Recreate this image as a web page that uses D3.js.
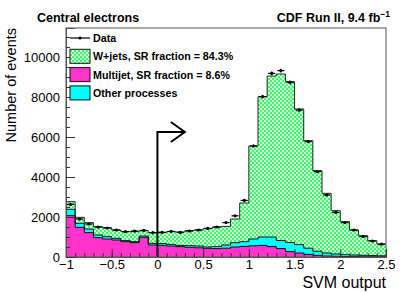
<!DOCTYPE html>
<html>
<head>
<meta charset="utf-8">
<script src="https://cdn.jsdelivr.net/npm/d3@7"></script>
<style>
  body { margin: 0; background: #fff; }
  svg { display: block; font-family: 'Liberation Sans', Arial, sans-serif; }
</style>
</head>
<body>
<svg id="chart" width="407" height="292"></svg>
<script>
// bins of 0.1 from -1 to 2.5
var binEdges = d3.range(35).map(function (i) { return -1 + i * 0.1 })
var binWidth = 0.1

// stacked components (events per bin)
var multijet = [2067, 1483, 1217, 967, 900, 850, 767, 717, 983, 600,
  583, 550, 517, 483, 460, 433, 420, 440, 500, 530,
  560, 580, 520, 420, 270, 200, 130, 80, 50, 35,
  25, 20, 15, 10, 10]
var other = [316, 200, 183, 133, 117, 83, 50, 50, 67, 83,
  87, 80, 63, 84, 90, 67, 100, 160, 217, 237,
  340, 420, 480, 400, 460, 420, 310, 210, 150, 115,
  92, 80, 70, 60, 50]
var wjets = [384, 300, 317, 417, 450, 417, 450, 500, 267, 534,
  563, 637, 670, 750, 800, 920, 980, 930, 1183, 1933,
  4650, 7017, 8050, 8330, 8037, 6780, 5377, 4027, 2983, 2167,
  1650, 1250, 982, 747, 590]
var data = [2630, 1900, 1650, 1500, 1450, 1350, 1270, 1300, 1330, 1220,
  1230, 1280, 1230, 1300, 1350, 1430, 1500, 1720, 2060, 2830,
  5550, 8020, 9180, 9320, 8730, 7350, 5770, 4270, 3100, 2230,
  1720, 1350, 1020, 800, 640]

var xTicks = [-1, -0.5, 0, 0.5, 1, 1.5, 2, 2.5]
var yTicks = [0, 2000, 4000, 6000, 8000, 10000]
var legendItems = ['Data', 'W+jets, SR fraction = 84.3%', 'Multijet, SR fraction = 8.6%', 'Other processes']
var cutValue = 0
var arrowTop = 6250
var arrowEnd = 0.3

//
// Layout
//
var margin = { left: 66, top: 28, right: 21, bottom: 35 }
var width = 407 - margin.left - margin.right
var height = 292 - margin.top - margin.bottom
var colMultijet = '#ff33cc'
var colOther = '#00ffff'
var colW = '#33ff66'

var svg = d3.select('#chart')
var defs = svg.append('defs')
var pat = defs.append('pattern').attr('id', 'checker')
  .attr('width', 4).attr('height', 4).attr('patternUnits', 'userSpaceOnUse')
pat.append('rect').attr('width', 4).attr('height', 4).attr('fill', '#d8ffdc')
pat.append('rect').attr('width', 2).attr('height', 2).attr('fill', colW)
pat.append('rect').attr('x', 2).attr('y', 2).attr('width', 2).attr('height', 2).attr('fill', colW)

var x = d3.scaleLinear().domain([-1, 2.5]).range([0, width])
var y = d3.scaleLinear().domain([0, 11450]).range([height, 0])

var g = svg.append('g').attr('transform', 'translate(' + margin.left + ',' + margin.top + ')')

var rows = binEdges.map(function (e, i) {
  return { x0: e, multijet: multijet[i], other: other[i], wjets: wjets[i] }
})
var stack = d3.stack().keys(['multijet', 'other', 'wjets'])(rows)
var fills = { multijet: colMultijet, other: colOther, wjets: 'url(#checker)' }

function stepPath(layer) {
  var p = d3.path()
  layer.forEach(function (d, i) {
    var x0 = x(d.data.x0), x1 = x(d.data.x0 + binWidth)
    if (i === 0) p.moveTo(x0, y(d[1]))
    else p.lineTo(x0, y(d[1]))
    p.lineTo(x1, y(d[1]))
  })
  return p
}

// filled areas, from top layer down
stack.slice().reverse().forEach(function (layer) {
  var area = d3.area()
    .curve(d3.curveStepAfter)
    .x(function (d) { return x(d.x) })
    .y0(height)
    .y1(function (d) { return y(d.v) })
  var pts = layer.map(function (d) { return { x: d.data.x0, v: d[1] } })
  pts.push({ x: 2.5, v: layer[layer.length - 1][1] })
  g.append('path').attr('d', area(pts)).attr('fill', fills[layer.key])
})

// outlines
stack.forEach(function (layer) {
  g.append('path').attr('d', stepPath(layer).toString()).attr('fill', 'none')
    .attr('stroke', layer.key === 'wjets' ? '#222' : '#111').attr('stroke-width', 1)
})

// cut arrow
var ax = x(cutValue), ay = y(arrowTop), ae = x(arrowEnd)
g.append('path')
  .attr('d', 'M' + ax + ',' + height + 'V' + ay + 'H' + ae)
  .attr('fill', 'none').attr('stroke', '#000').attr('stroke-width', 2)
g.append('path')
  .attr('d', 'M' + (ae - 14) + ',' + (ay - 10) + 'L' + ae + ',' + ay + 'L' + (ae - 14) + ',' + (ay + 10))
  .attr('fill', 'none').attr('stroke', '#000').attr('stroke-width', 2)

// data points
var dp = g.append('g')
data.forEach(function (v, i) {
  var cx = x(binEdges[i] + binWidth / 2)
  var err = Math.sqrt(v)
  dp.append('line').attr('x1', x(binEdges[i]) + 1).attr('x2', x(binEdges[i] + binWidth) - 1)
    .attr('y1', y(v)).attr('y2', y(v)).attr('stroke', '#000').attr('stroke-width', 1.2)
  dp.append('line').attr('x1', cx).attr('x2', cx)
    .attr('y1', y(v - err)).attr('y2', y(v + err)).attr('stroke', '#000').attr('stroke-width', 1.2)
  dp.append('circle').attr('cx', cx).attr('cy', y(v)).attr('r', 1.6).attr('fill', '#000')
})

// frame
g.append('rect').attr('width', width).attr('height', height)
  .attr('fill', 'none').attr('stroke', '#555').attr('stroke-width', 1)

// axes with inward ticks
var xAxis = d3.axisBottom(x).tickValues(xTicks).tickSize(-8).tickPadding(3)
  .tickFormat(function (d) { return d < 0 ? '\u2212' + Math.abs(d) : d })
var gx = g.append('g').attr('transform', 'translate(0,' + height + ')').call(xAxis)
var gxm = g.append('g').attr('transform', 'translate(0,' + height + ')')
  .call(d3.axisBottom(x).tickValues(d3.range(-1, 2.51, 0.1)).tickSize(-4).tickFormat(''))
var yAxis = d3.axisLeft(y).tickValues(yTicks).tickSize(-9).tickPadding(6).tickFormat(d3.format('d'))
var gy = g.append('g').call(yAxis)
var gym = g.append('g').call(d3.axisLeft(y).tickValues(d3.range(0, 11450, 500)).tickSize(-4).tickFormat(''))
;[gx, gxm, gy, gym].forEach(function (a) {
  a.select('.domain').attr('stroke', '#555')
  a.selectAll('.tick line').attr('stroke', '#333')
  a.selectAll('text').attr('font-size', 13).attr('fill', '#000')
    .attr('font-family', "'Liberation Sans', Arial, sans-serif")
})

// axis titles
svg.append('text').attr('x', 386).attr('y', 288).attr('text-anchor', 'end')
  .attr('font-size', 16).text('SVM output')
svg.append('text').attr('transform', 'translate(16,28) rotate(-90)').attr('text-anchor', 'end')
  .attr('font-size', 14.5).text('Number of events')

// headers
svg.append('text').attr('x', 37).attr('y', 22).attr('font-size', 12.5).attr('font-weight', 'bold')
  .text('Central electrons')
var hdr = svg.append('text').attr('x', 390).attr('y', 22).attr('text-anchor', 'end')
  .attr('font-size', 12.5).attr('font-weight', 'bold')
hdr.append('tspan').text('CDF Run II, 9.4 fb')
hdr.append('tspan').attr('dy', -5).attr('font-size', 8.5).text('\u22121')

// legend
var lg = svg.append('g').attr('transform', 'translate(70,38)')
var lgKeys = ['data', colW, colMultijet, colOther]
legendItems.forEach(function (t, i) {
  var ly = i * 18.3
  if (i === 0) {
    lg.append('line').attr('x1', 0).attr('x2', 20).attr('y1', ly).attr('y2', ly).attr('stroke', '#000').attr('stroke-width', 1.2)
    lg.append('circle').attr('cx', 10).attr('cy', ly).attr('r', 1.6)
  } else {
    lg.append('rect').attr('x', 0).attr('y', ly - 7).attr('width', 20).attr('height', 14)
      .attr('fill', i === 1 ? 'url(#checker)' : lgKeys[i]).attr('stroke', '#111').attr('stroke-width', 1)
  }
  lg.append('text').attr('x', 23).attr('y', ly + 4).attr('font-size', 10.7).attr('font-weight', 'bold').text(t)
})
</script>
</body>
</html>
